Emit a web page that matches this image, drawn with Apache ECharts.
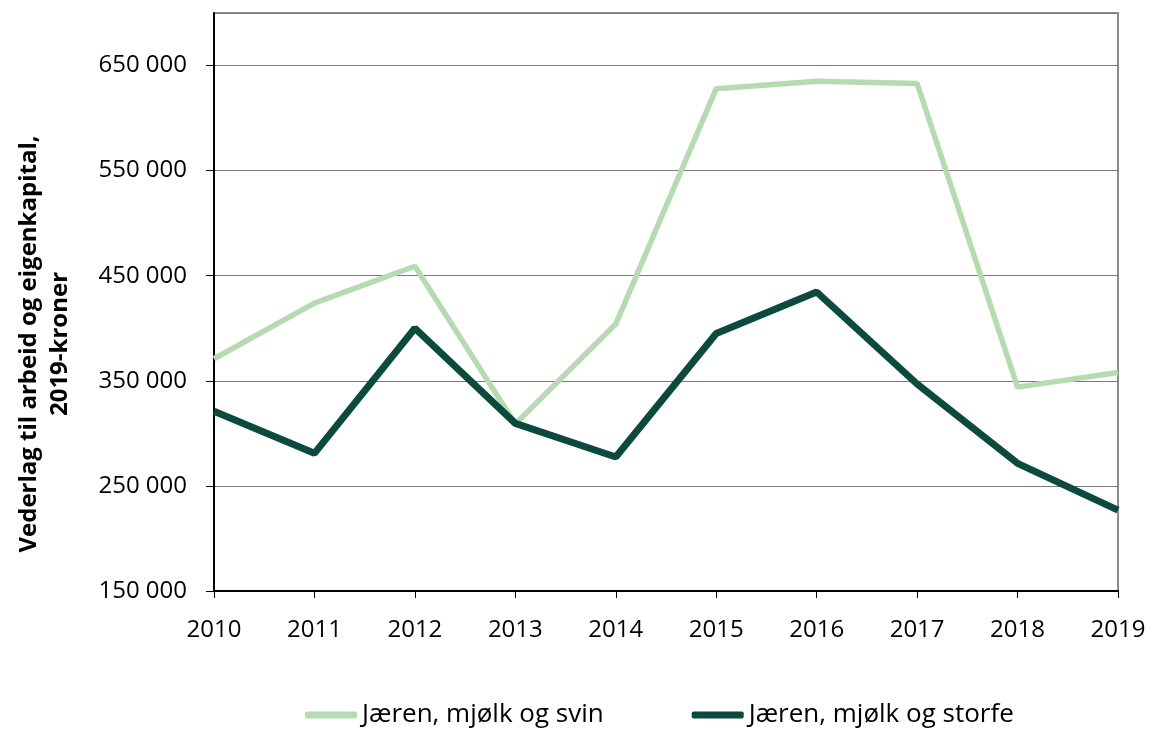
<!DOCTYPE html>
<html>
<head>
<meta charset="utf-8">
<script src="https://cdn.jsdelivr.net/npm/echarts@6/dist/echarts.min.js"></script>
<style>
  html, body { margin: 0; padding: 0; background: #fff; }
  #chart { width: 1152px; height: 729px; }
</style>
</head>
<body>
<div id="chart"></div>
<script>
var years = ['2010', '2011', '2012', '2013', '2014', '2015', '2016', '2017', '2018', '2019'];
var svin = [371000, 424000, 459000, 309000, 404000, 628000, 635000, 633000, 344000, 358000];
var storfe = [321000, 281000, 400000, 309500, 277500, 395000, 434500, 347000, 271500, 227000];
var seriesNames = ['Jæren, mjølk og svin', 'Jæren, mjølk og storfe'];
var lightColor = '#b6dbb3';
var darkColor = '#0b4a3c';

var fontFamily = '"Open Sans", "Liberation Sans", sans-serif';

var fmt = function (v) {
    return String(v).replace(/\B(?=(\d{3})+(?!\d))/g, ' ');
};

var myChart = echarts.init(document.getElementById('chart'));
var option = {
    animation: false,
    textStyle: { fontFamily: fontFamily },
    grid: {
        left: 214,
        right: 34,
        top: 13,
        bottom: 138,
        outerBoundsMode: 'none',
        containLabel: false,
        show: true,
        borderColor: '#8c8c8c',
        borderWidth: 2
    },
    legend: {
        left: 300,
        top: 697,
        itemWidth: 52,
        itemHeight: 7,
        itemGap: 88,
        textStyle: { fontSize: 26, color: '#000', fontFamily: fontFamily },
        data: [
            { name: seriesNames[0], icon: 'roundRect', itemStyle: { color: lightColor } },
            { name: seriesNames[1], icon: 'roundRect', itemStyle: { color: darkColor } }
        ]
    },
    xAxis: {
        type: 'category',
        data: years,
        boundaryGap: false,
        axisLine: { lineStyle: { color: '#000', width: 2 } },
        axisTick: { show: true, length: 7, lineStyle: { color: '#000' } },
        axisLabel: { color: '#000', fontSize: 24, margin: 27 }
    },
    yAxis: {
        type: 'value',
        min: 150000,
        max: 700000,
        interval: 100000,
        name: 'Vederlag til arbeid og eigenkapital,\n2019-kroner',
        nameLocation: 'middle',
        nameGap: 138,
        nameTextStyle: {
            fontSize: 24,
            fontWeight: 'bold',
            color: '#000',
            lineHeight: 31,
            padding: [0, 84, 0, 0]
        },
        axisLine: { show: true, lineStyle: { color: '#000', width: 2 } },
        axisTick: { show: true, length: 8, lineStyle: { color: '#000' } },
        axisLabel: {
            color: '#000',
            fontSize: 24,
            margin: 27,
            showMaxLabel: false,
            formatter: function (v) { return v >= 700000 ? '' : fmt(v); }
        },
        splitLine: { show: true, lineStyle: { color: '#7a7a7a', width: 1 } }
    },
    series: [
        {
            name: seriesNames[0],
            type: 'line',
            data: svin,
            symbol: 'none',
            lineStyle: { color: lightColor, width: 5.5 },
            itemStyle: { color: lightColor }
        },
        {
            name: seriesNames[1],
            type: 'line',
            data: storfe,
            symbol: 'none',
            lineStyle: { color: darkColor, width: 7 },
            itemStyle: { color: darkColor }
        }
    ]
};
myChart.setOption(option);
window.onresize = myChart.resize;
</script>
</body>
</html>
